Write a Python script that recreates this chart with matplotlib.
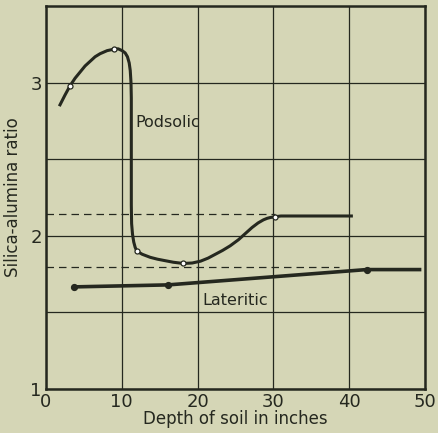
import numpy as np
import matplotlib
matplotlib.use("Agg")
import matplotlib.pyplot as plt

# podsolic curve
pod_x = [1.85, 2.51, 3.17, 3.84, 4.5, 5.16, 5.82, 6.48, 7.14, 8.07, 9.0, 9.52, 10.05,
         10.45, 10.75, 10.98, 11.12, 11.22, 11.26, 11.26, 11.3, 11.42, 11.58, 11.77,
         12.0, 12.7, 13.76, 14.7, 15.74, 16.8, 18.1, 19.3, 20.4, 21.4, 22.35, 23.3,
         24.3, 25.4, 26.3, 27.2, 28.0, 28.7, 29.2, 29.6, 30.2, 31.0, 40.3]
pod_y = [2.856, 2.92, 2.98, 3.03, 3.07, 3.11, 3.14, 3.17, 3.19, 3.21, 3.22, 3.222, 3.21,
         3.195, 3.17, 3.13, 3.08, 3.0, 2.9, 2.2, 2.08, 2.01, 1.96, 1.925,
         1.90, 1.88, 1.86, 1.848, 1.838, 1.828, 1.82, 1.823, 1.835, 1.855, 1.88, 1.905,
         1.935, 1.975, 2.015, 2.055, 2.085, 2.105, 2.115, 2.12, 2.125, 2.13, 2.13]
# sampled points (open circles)
pod_pts_x = [3.17, 9.0, 12.0, 18.1, 30.2]
pod_pts_y = [2.98, 3.22, 1.90, 1.82, 2.125]

# lateritic line and sampled points (filled dots)
lat_x = [3.7, 16.1, 42.3, 49.3]
lat_y = [1.667, 1.68, 1.78, 1.78]
lat_pts_x = [3.7, 16.1, 42.3]
lat_pts_y = [1.667, 1.68, 1.78]

# dashed reference levels: (value, end depth)
ref_levels = [2.14, 1.80]
ref_ends = [30.2, 38.7]

bg = '#d5d6b6'
ink = '#25281f'

plt.rcParams['font.family'] = ['DejaVu Sans']
fig = plt.figure(figsize=(4.38, 4.33), dpi=100, facecolor=bg)
ax = fig.add_axes([0.105, 0.1016, 0.865, 0.884], facecolor=bg)

ax.set_xlim(0, 50)
ax.set_ylim(1, 3.5)
ax.set_xticks([0, 10, 20, 30, 40, 50])
ax.set_yticks([1, 2, 3])
ax.set_yticks([1.5, 2.5], minor=True)
ax.grid(True, which='both', color=ink, lw=0.9)
ax.tick_params(length=0, labelsize=13, colors=ink, pad=3)
ax.tick_params(which='minor', length=0)
for s in ax.spines.values():
    s.set_linewidth(1.8)
    s.set_color(ink)

for lvl, end in zip(ref_levels, ref_ends):
    ax.plot([0, end], [lvl, lvl], color=ink, lw=0.9, ls=(0, (6, 4)))

ax.plot(pod_x, pod_y, color=ink, lw=2.2, solid_joinstyle='round')
ax.plot(pod_pts_x, pod_pts_y, 'o', ms=3.6, mfc='white', mec=ink, mew=0.9)
ax.plot(lat_x, lat_y, color=ink, lw=2.6)
ax.plot(lat_pts_x, lat_pts_y, 'o', ms=4.2, color=ink)

ax.text(11.8, 2.74, 'Podsolic', fontsize=11.5, color=ink, va='center')
ax.text(20.6, 1.58, 'Lateritic', fontsize=11.5, color=ink, va='center')

ax.set_xlabel('Depth of soil in inches', fontsize=12, color=ink, labelpad=-1)
ax.set_ylabel('Silica-alumina ratio', fontsize=12, color=ink, labelpad=6)

fig.savefig('out.png', dpi=100, facecolor=bg)
